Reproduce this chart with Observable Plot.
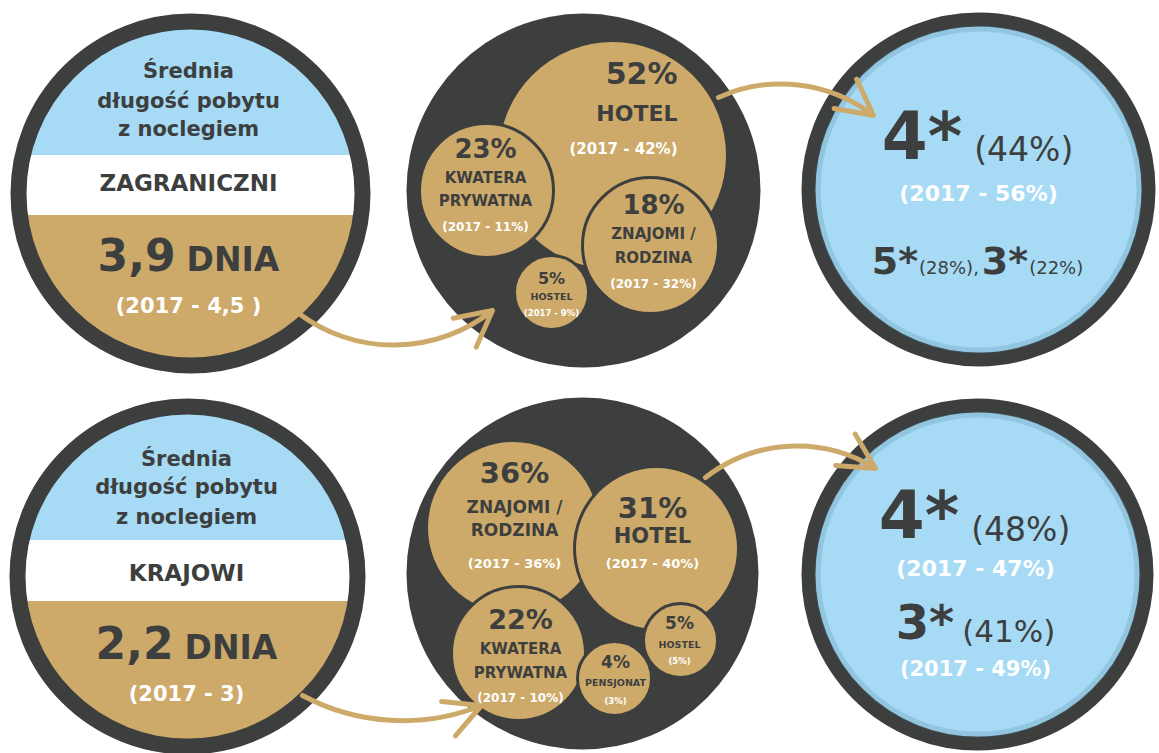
<!DOCTYPE html>
<html><head><meta charset="utf-8">
<script src="https://cdn.jsdelivr.net/npm/d3@7"></script>
<script src="https://cdn.jsdelivr.net/npm/@observablehq/plot@0.6"></script>
<style>
html,body{margin:0;padding:0;background:#fff;}
#chart svg{display:block;}
</style></head><body><div id="chart"></div>
<script>
// ---------------- data ----------------
const titleLines = ["Średnia", "długość pobytu", "z noclegiem"];
const segments = ["ZAGRANICZNI", "KRAJOWI"];
const stayDays = ["3,9", "2,2"];
const stayUnit = "DNIA";
const stay2017 = ["(2017 - 4,5 )", "(2017 - 3)"];

const foreignTypes = ["HOTEL", "KWATERA\nPRYWATNA", "ZNAJOMI /\nRODZINA", "HOSTEL"];
const foreignShare = [52, 23, 18, 5];
const foreignPrev = ["(2017 - 42%)", "(2017 - 11%)", "(2017 - 32%)", "(2017 - 9%)"];

const domesticTypes = ["ZNAJOMI /\nRODZINA", "HOTEL", "KWATERA\nPRYWATNA", "PENSJONAT", "HOSTEL"];
const domesticShare = [36, 31, 22, 4, 5];
const domesticPrev = ["(2017 - 36%)", "(2017 - 40%)", "(2017 - 10%)", "(3%)", "(5%)"];

const foreignStars = ["4*", "5*", "3*"];
const foreignStarShare = [44, 28, 22];
const foreignStarPrev = ["(2017 - 56%)"];
const domesticStars = ["4*", "3*"];
const domesticStarShare = [48, 41];
const domesticStarPrev = ["(2017 - 47%)", "(2017 - 49%)"];

// ---------------- layout & style ----------------
const W = 1159, H = 753;
const FONT = "'DejaVu Sans', sans-serif";
const C = {tan: "#CEAA6A", blue: "#A6DAF5", dark: "#3D3F3F", white: "#FFFFFF"};

const leftLayout = [
  {cx: 190, cy: 193, r: 172, bandTop: 155, bandMid: 215, tx: 188, titleY: [77, 107, 135], fT: 21, segY: 190, fS: 23, daysY: 270, fD: 44, fU: 33, prevY: 312, fQ: 21},
  {cx: 187, cy: 576, r: 170, bandTop: 540, bandMid: 601, tx: 186, titleY: [465, 493, 523], fT: 21, segY: 580, fS: 23, daysY: 658, fD: 44, fU: 33, prevY: 700, fQ: 21}
];
const midLayout = [{cx: 583, cy: 190, r: 177}, {cx: 582, cy: 573, r: 176}];
const rightLayout = [{cx: 978, cy: 189, r: 170}, {cx: 977, cy: 574, r: 169}];

const foreignBubbleLayout = [
  {cx: 612, cy: 155, r: 115, tx: 677, anchor: "end", yP: 83, fP: 30, yL: 120, lh: 0, fL: 22, yQ: 153, fQ: 15},
  {cx: 486, cy: 190, r: 67, tx: 485, yP: 157, fP: 26, yL: 182, lh: 23, fL: 15, yQ: 230, fQ: 12},
  {cx: 650, cy: 245, r: 68, tx: 653, yP: 213, fP: 26, yL: 238, lh: 24, fL: 15, yQ: 287, fQ: 12},
  {cx: 551, cy: 292, r: 37, tx: 551, yP: 283, fP: 16, yL: 299, lh: 0, fL: 9.5, yQ: 315, fQ: 8.5}
];
const domesticBubbleLayout = [
  {cx: 513, cy: 527, r: 87, tx: 514, yP: 482, fP: 29, yL: 512, lh: 23, fL: 17, yQ: 567, fQ: 13},
  {cx: 656, cy: 548, r: 82, tx: 652, yP: 517, fP: 29, yL: 542, lh: 0, fL: 21, yQ: 567, fQ: 13},
  {cx: 518, cy: 653, r: 67, tx: 520, yP: 628, fP: 27, yL: 653, lh: 24, fL: 15, yQ: 701, fQ: 12},
  {cx: 614, cy: 678, r: 37, tx: 615, yP: 667, fP: 17, yL: 685, lh: 0, fL: 9.5, yQ: 703, fQ: 8.5},
  {cx: 680, cy: 640, r: 37, tx: 679, yP: 628, fP: 17, yL: 647, lh: 0, fL: 9.5, yQ: 663, fQ: 8.5}
];

const arrowLayout = [
  {x1: 297, y1: 312, x2: 492, y2: 310, bend: -38},
  {x1: 718, y1: 97, x2: 873, y2: 115, bend: 31},
  {x1: 302, y1: 695, x2: 481, y2: 705, bend: -25},
  {x1: 705, y1: 477, x2: 875, y2: 468, bend: 35}
];

// ---------------- text helpers ----------------
const ctx = document.createElement("canvas").getContext("2d");
function measure(text, size, weight) {
  ctx.font = `${weight >= 600 ? "bold" : "normal"} ${size}px ${FONT}`;
  return ctx.measureText(text).width;
}
const items = [];
function add(x, y, text, size, weight, fill, anchor = "middle") {
  items.push({x, y, text, size, weight, fill, anchor});
}
function addRow(cx, y, pieces) {
  const widths = pieces.map(p => measure(p.text, p.size, p.weight));
  const total = d3.sum(widths) + d3.sum(pieces, p => p.gap || 0);
  let x = cx - total / 2;
  pieces.forEach((p, i) => {
    x += p.gap || 0;
    add(x, y + (p.dy || 0), p.text, p.size, p.weight, p.fill || C.dark, "start");
    x += widths[i];
  });
}

leftLayout.forEach((L, i) => {
  titleLines.forEach((t, j) => add(L.tx, L.titleY[j], t, L.fT, 600, C.dark));
  add(L.tx, L.segY, segments[i], L.fS, 600, C.dark);
  addRow(L.tx, L.daysY, [
    {text: stayDays[i], size: L.fD, weight: 700},
    {text: stayUnit, size: L.fU, weight: 600, gap: 11}
  ]);
  add(L.tx, L.prevY, stay2017[i], L.fQ, 600, C.white);
});
function addBubbles(types, share, prev, layout) {
  layout.forEach((B, i) => {
    const a = B.anchor || "middle";
    add(B.tx, B.yP, share[i] + "%", B.fP, 700, C.dark, a);
    types[i].split("\n").forEach((t, j) => add(B.tx, B.yL + j * B.lh, t, B.fL, 600, C.dark, a));
    add(B.tx, B.yQ, prev[i], B.fQ, 600, C.white, a);
  });
}
addBubbles(foreignTypes, foreignShare, foreignPrev, foreignBubbleLayout);
addBubbles(domesticTypes, domesticShare, domesticPrev, domesticBubbleLayout);

// stars (top)
addRow(977, 158, [
  {text: foreignStars[0], size: 66, weight: 700},
  {text: `(${foreignStarShare[0]}%)`, size: 33, weight: 400, gap: 12, dy: 2}
]);
add(978, 200, foreignStarPrev[0], 22, 600, C.white);
addRow(977, 273, [
  {text: foreignStars[1], size: 38, weight: 700},
  {text: `(${foreignStarShare[1]}%),`, size: 18, weight: 400, gap: 1},
  {text: foreignStars[2], size: 38, weight: 700, gap: 3},
  {text: `(${foreignStarShare[2]}%)`, size: 18, weight: 400, gap: 1}
]);
// stars (bottom)
addRow(974, 537, [
  {text: domesticStars[0], size: 66, weight: 700},
  {text: `(${domesticStarShare[0]}%)`, size: 33, weight: 400, gap: 12, dy: 3}
]);
add(975, 575, domesticStarPrev[0], 22, 600, C.white);
addRow(975, 638, [
  {text: domesticStars[1], size: 48, weight: 700},
  {text: `(${domesticStarShare[1]}%)`, size: 31, weight: 400, gap: 8, dy: 3}
]);
add(975, 675, domesticStarPrev[1], 21, 600, C.white);

function textMarks(list) {
  return d3.groups(list, d => d.anchor + "|" + d.weight).map(([, arr]) =>
    Plot.text(arr, {
      x: "x", y: "y", text: "text",
      fontSize: d => d.size, fill: d => d.fill,
      textAnchor: arr[0].anchor, fontWeight: arr[0].weight >= 600 ? "bold" : "normal",
      lineAnchor: "bottom", fontFamily: FONT
    }));
}

// bands inside left circles (rows of chords)
const bandRows = [];
leftLayout.forEach(L => {
  const top = L.cy - L.r;
  [[top, L.bandTop, C.blue, "b"], [L.bandTop, L.bandMid, C.white, "w"]].forEach(([y0, y1, fill, k]) => {
    for (let y = y0; y <= y1; y += 0.5) {
      const h = Math.sqrt(Math.max(0, L.r * L.r - (y - L.cy) ** 2));
      bandRows.push({y, x1: L.cx - h, x2: L.cx + h, fill, z: k + L.cy});
    }
  });
});

const arrowMarks = arrowLayout.map(a => Plot.arrow([a], {
  x1: "x1", y1: "y1", x2: "x2", y2: "y2", bend: a.bend,
  stroke: C.tan, strokeWidth: 5, headLength: 12, headAngle: 55
}));

const chart = Plot.plot({
  width: W, height: H,
  margin: 0,
  x: {domain: [0, W], range: [0, W], axis: null},
  y: {domain: [0, H], range: [0, H], axis: null},
  r: {type: "identity"},
  color: {type: "identity"},
  style: {background: "#fff", fontFamily: FONT},
  marks: [
    Plot.dot(leftLayout, {x: "cx", y: "cy", r: "r", fill: C.tan, ariaLabel: "shadowed"}),
    Plot.areaX(bandRows, {y: "y", x1: "x1", x2: "x2", fill: d => d.fill, z: "z", curve: "linear"}),
    Plot.dot(leftLayout, {x: "cx", y: "cy", r: "r", fill: "none", stroke: C.dark, strokeWidth: 16}),
    Plot.dot(midLayout, {x: "cx", y: "cy", r: "r", fill: C.dark, ariaLabel: "shadowed"}),
    Plot.dot(foreignBubbleLayout, {x: "cx", y: "cy", r: "r", fill: C.tan, stroke: C.dark, strokeWidth: 3, ariaLabel: "shadowed"}),
    Plot.dot(domesticBubbleLayout, {x: "cx", y: "cy", r: "r", fill: C.tan, stroke: C.dark, strokeWidth: 3, ariaLabel: "shadowed"}),
    Plot.dot(rightLayout, {x: "cx", y: "cy", r: "r", fill: C.blue, stroke: C.dark, strokeWidth: 14, ariaLabel: "shadowed"}),
    Plot.dot(rightLayout, {x: "cx", y: "cy", r: d => d.r - 9, fill: "none", stroke: "#4f7f98", strokeOpacity: 0.22, strokeWidth: 6, ariaLabel: "inner"}),
    ...arrowMarks,
    ...textMarks(items)
  ]
});
document.getElementById("chart").appendChild(chart);

// drop shadows
const svg = d3.select(chart);
const defs = svg.insert("defs", ":first-child");
const f = defs.append("filter").attr("id", "sh").attr("x", "-30%").attr("y", "-30%").attr("width", "160%").attr("height", "160%");
f.append("feDropShadow").attr("dx", 4).attr("dy", 6).attr("stdDeviation", 5).attr("flood-color", "#000").attr("flood-opacity", 0.45);
const g = defs.append("filter").attr("id", "blur").attr("x", "-10%").attr("y", "-10%").attr("width", "120%").attr("height", "120%");
g.append("feGaussianBlur").attr("stdDeviation", 4);
svg.selectAll('g[aria-label="shadowed"] circle').attr("filter", "url(#sh)");
svg.selectAll('g[aria-label="inner"] circle').attr("filter", "url(#blur)");
</script>
</body></html>
